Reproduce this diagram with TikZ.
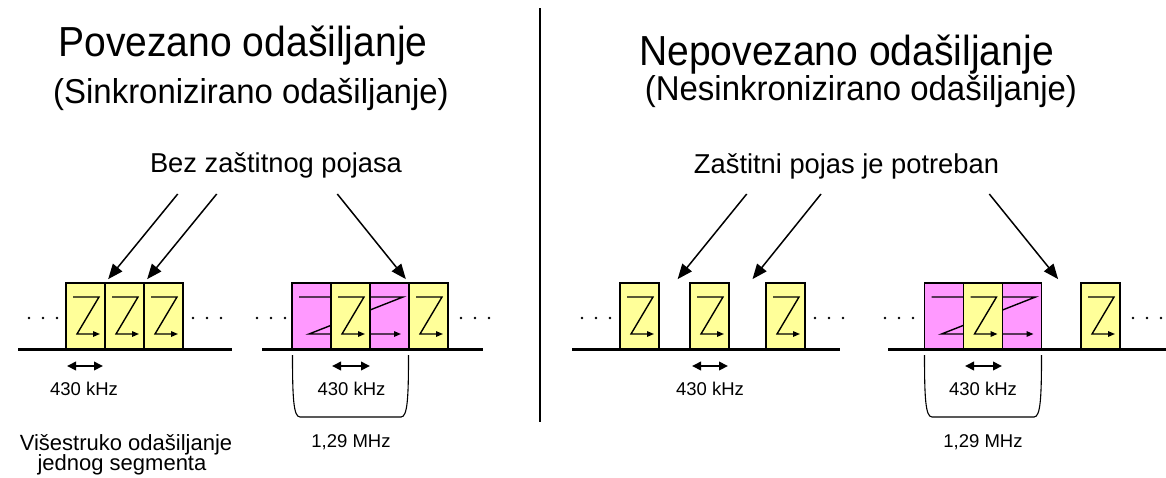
\documentclass[tikz,border=0pt]{standalone}
\usepackage{fontspec}
\setmainfont{Liberation Sans}
\usetikzlibrary{arrows.meta,calc}
\definecolor{yel}{HTML}{FFFF99}
\definecolor{mag}{HTML}{FF99FF}
\tikzset{
  ybox/.style={draw, fill=yel, line width=1.2pt, minimum width=39pt, minimum height=66pt, inner sep=0pt, outer sep=0pt},
  mbox/.style={ybox, fill=mag},
  zline/.style={line width=1.4pt, line join=miter, -{Triangle[length=7pt,width=5.5pt]}},
  bigarrow/.style={line width=1.5pt, -{Triangle[length=15pt,width=12pt]}, shorten >=5pt},
  dimarrow/.style={line width=2pt, {Triangle[length=9pt,width=8.5pt]}-{Triangle[length=9pt,width=8.5pt]}},
  baseln/.style={line width=3pt},
  brack/.style={line width=1.1pt},
  dotc/.style={fill=black},
  title/.style={anchor=base, inner sep=0pt, font=\fontsize{42}{44}\selectfont},
  subtitle/.style={anchor=base, inner sep=0pt, font=\fontsize{34.5}{36}\selectfont},
  mid/.style={anchor=base, inner sep=0pt, font=\fontsize{27.3}{28}\selectfont},
  small/.style={anchor=base, inner sep=0pt, font=\fontsize{18.5}{20}\selectfont},
  note/.style={anchor=base, inner sep=0pt, font=\fontsize{22}{24}\selectfont}
}
\newcommand\yz[1]{\draw[zline] ($(#1.north west)+(7,14)$) -- ($(#1.north east)+(-6,14)$) -- ($(#1.north west)+(11,51)$) -- ($(#1.north east)+(-5,51)$);}
\newcommand\mz[1]{\draw[zline] ($(#1.north west)+(7,14)$) -- ($(#1.north west)+(111,14)$) -- ($(#1.north west)+(17,51)$) -- ($(#1.north west)+(109,51)$);}
\newcommand\threedots[2]{\foreach \k in {0,1,2} {\fill[dotc] (#1+\k*14,#2) circle (1.4pt);}}
\begin{document}
\begin{tikzpicture}[x=1pt,y=-1pt]
\useasboundingbox (0,0) rectangle (1166,477);
\fill[white] (0,0) rectangle (1166,477);

% divider
\draw[line width=1.3pt] (540,8) -- (540,422);

% titles
\node[title] (tL) at (243,56) {\scalebox{0.93}[1]{Povezano odašiljanje}};
\node[subtitle] (sL) at (251,103) {\scalebox{0.955}[1]{(Sinkronizirano odašiljanje)}};
\node[title] (tR) at (846.5,65) {\scalebox{0.93}[1]{Nepovezano odašiljanje}};
\node[subtitle] (sR) at (861,100) {\scalebox{0.955}[1]{(Nesinkronizirano odašiljanje)}};
\node[mid] (bez) at (276,172.5) {Bez zaštitnog pojasa};
\node[mid] (zas) at (846.5,173.3) {Zaštitni pojas je potreban};

% ---------- left group 1 ----------
\draw[baseln] (18,349) -- (232,349);
\node[ybox] (a1) at (85.5,316) {};
\node[ybox] (a2) at (124.5,316) {};
\node[ybox] (a3) at (163.5,316) {};
\yz{a1}\yz{a2}\yz{a3}
\threedots{29}{318}
\threedots{193}{318}
\coordinate (d1l) at (67,366); \coordinate (d1r) at (103,366);
\draw[dimarrow] (d1l) -- (d1r);
\node[small] (k1) at (84,395) {430 kHz};
\node[note] (v1) at (126,450) {Višestruko odašiljanje};
\node[note] (v2) at (122,470) {jednog segmenta};

% ---------- left group 2 ----------
\draw[baseln] (262,349) -- (483,349);
\node[mbox] (m1) at (311.5,316) {};
\node[mbox] (m2) at (389.5,316) {};
\mz{m1}
\node[ybox] (b1) at (350.5,316) {};
\node[ybox] (b2) at (428.5,316) {};
\yz{b1}\yz{b2}
\threedots{257}{318}
\threedots{461}{318}
\coordinate (d2l) at (332,366); \coordinate (d2r) at (370,366);
\draw[dimarrow] (d2l) -- (d2r);
\node[small] (k2) at (351.5,395) {430 kHz};
\draw[brack] (292.5,355) .. controls (292.5,398) and (293.5,417) .. (300,417) -- (401,417) .. controls (407.5,417) and (408.5,398) .. (408.5,355);
\node[small] (h1) at (351,447) {1,29 MHz};

% arrows left
\coordinate (s1) at (177.7,194);
\coordinate (s2) at (216.7,194);
\coordinate (s3) at (337.3,194);
\draw[bigarrow] (s1) -- (a1.north east);
\draw[bigarrow] (s2) -- (a2.north east);
\draw[bigarrow] (s3) -- (m2.north east);

% ---------- right group 1 ----------
\draw[baseln] (572,349) -- (840,349);
\node[ybox] (c1) at (639.5,316) {};
\node[ybox] (c2) at (709.5,316) {};
\node[ybox] (c3) at (785.5,316) {};
\yz{c1}\yz{c2}\yz{c3}
\threedots{582}{318}
\threedots{815}{318}
\coordinate (d3l) at (692,366); \coordinate (d3r) at (728,366);
\draw[dimarrow] (d3l) -- (d3r);
\node[small] (k3) at (710,395) {430 kHz};

% ---------- right group 2 ----------
\draw[baseln] (888,349) -- (1166,349);
\node[mbox] (n1) at (944,316) {};
\node[mbox] (n3) at (1022,316) {};
\mz{n1}
\node[ybox] (n2) at (983,316) {};
\node[ybox] (n4) at (1100.5,316) {};
\yz{n2}\yz{n4}
\threedots{885}{318}
\threedots{1133}{318}
\coordinate (d4l) at (965,366); \coordinate (d4r) at (1002,366);
\draw[dimarrow] (d4l) -- (d4r);
\node[small] (k4) at (983,395) {430 kHz};
\draw[brack] (924.5,355) .. controls (924.5,398) and (925.5,417) .. (932,417) -- (1034,417) .. controls (1040.5,417) and (1041.5,398) .. (1041.5,355);
\node[small] (h2) at (983,447) {1,29 MHz};

% arrows right
\coordinate (r1) at (746.7,194);
\coordinate (r2) at (821,194);
\coordinate (r3) at (989.3,194);
\coordinate (g1) at ($(c1.north east)!0.5!(c2.north west)$);
\coordinate (g2) at ($(c2.north east)!0.55!(c3.north west)$);
\coordinate (g3) at ($(n3.north east)!0.5!(n4.north west)$);
\draw[bigarrow] (r1) -- (g1);
\draw[bigarrow] (r2) -- (g2);
\draw[bigarrow] (r3) -- (g3);
\end{tikzpicture}
\end{document}
